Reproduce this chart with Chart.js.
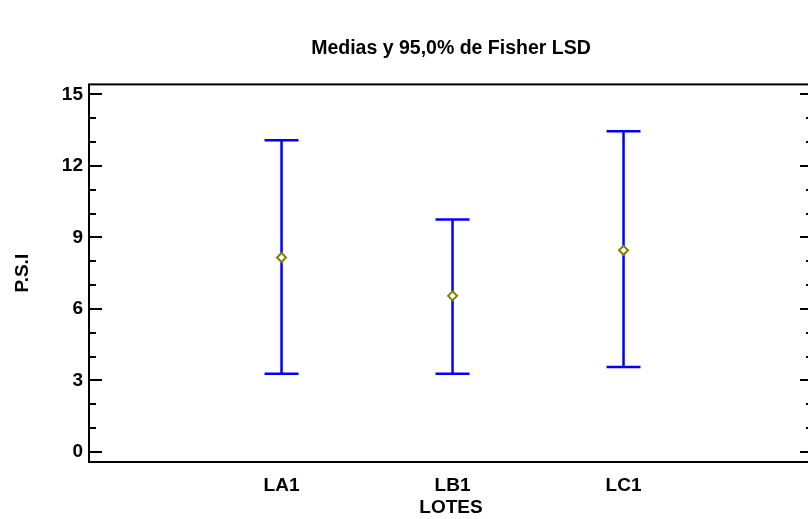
<!DOCTYPE html>
<html lang="es">
<head>
  <meta charset="UTF-8">
  <title>Medias y 95,0% de Fisher LSD</title>
  <script src="https://cdn.jsdelivr.net/npm/chart.js"></script>
  <style>
    body { margin: 0; background: #fff; overflow: hidden; }
    #wrap { width: 808px; height: 519px; overflow: hidden; }
  </style>
</head>
<body>
  <!-- el lienzo es algo mas ancho: el marco derecho queda fuera, como en el original -->
  <div id="wrap">
    <canvas id="chart" width="813" height="519"></canvas>
  </div>
  <script>
    // datos
    const lotes = ['LA1', 'LB1', 'LC1'];
    const medias = [8.16, 6.55, 8.46];
    const limInf = [3.28, 3.28, 3.56];
    const limSup = [13.08, 9.75, 13.45];
    const yTicks = [0, 3, 6, 9, 12, 15];
    const yMinor = [1, 2, 4, 5, 7, 8, 10, 11, 13, 14];

    const AZUL = '#0000ff';
    const FUENTE = '"Liberation Sans", Arial, sans-serif';

    // marco y marcas hacia dentro (estilo Statgraphics)
    const marco = {
      id: 'marco',
      afterDraw(chart) {
        const { ctx, chartArea: a } = chart;
        const y = chart.scales.y;
        ctx.save();
        ctx.strokeStyle = '#000';
        ctx.lineWidth = 2;
        ctx.strokeRect(a.left, a.top, a.right - a.left, a.bottom - a.top);
        const marca = (v, len) => {
          const py = Math.round(y.getPixelForValue(v));
          ctx.beginPath();
          ctx.moveTo(a.left, py); ctx.lineTo(a.left + len, py);
          ctx.moveTo(a.right, py); ctx.lineTo(a.right - len, py);
          ctx.stroke();
        };
        yTicks.forEach(v => marca(v, 13));
        yMinor.forEach(v => marca(v, 7));
        ctx.restore();
      }
    };

    const tramos = lotes.flatMap((l, i) => [
      { x: i + 1, y: limInf[i] },
      { x: i + 1, y: limSup[i] },
      { x: i + 1, y: null }
    ]);
    const topes = lotes.flatMap((l, i) => [
      { x: i + 1, y: limInf[i] },
      { x: i + 1, y: limSup[i] }
    ]);

    new Chart(document.getElementById('chart'), {
      type: 'scatter',
      data: {
        datasets: [
          {
            label: 'Medias',
            data: medias.map((m, i) => ({ x: i + 1, y: m })),
            pointStyle: 'rectRot',
            pointRadius: 4.5,
            pointBorderWidth: 2,
            pointBorderColor: '#808000',
            pointBackgroundColor: '#ffffff',
            order: 0
          },
          {
            label: 'Topes',
            data: topes,
            pointStyle: 'line',
            pointRadius: 17,
            pointBorderWidth: 2.5,
            pointBorderColor: AZUL,
            order: 1
          },
          {
            type: 'line',
            label: 'Intervalos',
            data: tramos,
            borderColor: AZUL,
            borderWidth: 2.5,
            pointRadius: 0,
            spanGaps: false,
            order: 2
          }
        ]
      },
      options: {
        responsive: false,
        animation: false,
        devicePixelRatio: 1,
        layout: { autoPadding: false, padding: 0 },
        plugins: {
          legend: { display: false },
          tooltip: { enabled: false },
          title: {
            display: true,
            fullSize: false,
            text: 'Medias y 95,0% de Fisher LSD',
            color: '#000',
            font: { family: FUENTE, size: 19.5, weight: 'bold' },
            padding: { top: 37, bottom: 24 }
          }
        },
        scales: {
          x: {
            type: 'linear',
            min: -0.126,
            max: 4.108,
            afterBuildTicks: s => { s.ticks = lotes.map((l, i) => ({ value: i + 1 })); },
            afterFit: s => { s.height = 57; },
            grid: { display: false, drawTicks: false },
            border: { display: false },
            ticks: {
              padding: 12,
              color: '#000',
              font: { family: FUENTE, size: 19, weight: 'bold' },
              callback: v => lotes[v - 1]
            },
            title: {
              display: true,
              text: 'LOTES',
              color: '#000',
              font: { family: FUENTE, size: 19, weight: 'bold' },
              padding: { top: 0, bottom: 0 }
            }
          },
          y: {
            min: -0.42,
            max: 15.42,
            afterBuildTicks: s => { s.ticks = yTicks.map(v => ({ value: v })); },
            afterFit: s => { s.width = 89; },
            grid: { display: false, drawTicks: false },
            border: { display: false },
            ticks: {
              padding: 6,
              color: '#000',
              font: { family: FUENTE, size: 19, weight: 'bold' }
            },
            title: {
              display: true,
              text: 'P.S.I',
              color: '#000',
              font: { family: FUENTE, size: 19, weight: 'bold' },
              padding: { top: 11, bottom: 0 }
            }
          }
        }
      },
      plugins: [marco]
    });
  </script>
</body>
</html>
